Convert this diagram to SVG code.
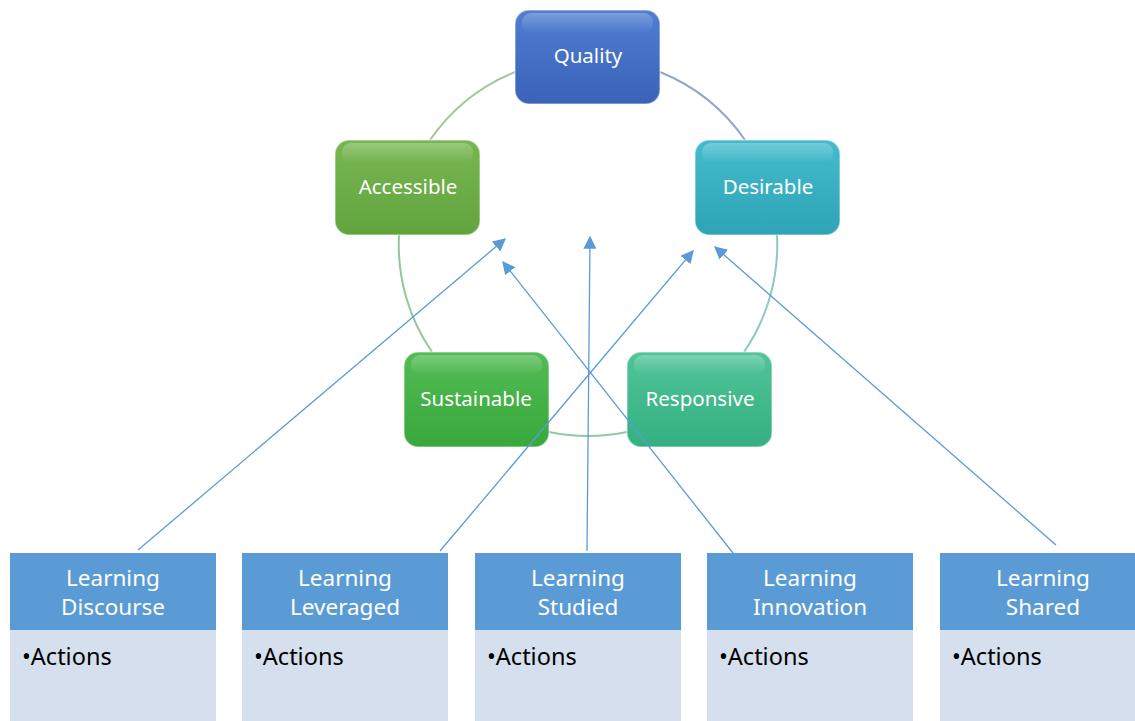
<svg xmlns="http://www.w3.org/2000/svg" width="1135" height="721" viewBox="0 0 1135 721">
<defs>
<linearGradient id="gBlue" x1="0" y1="0" x2="0" y2="1"><stop offset="0" stop-color="#4f7ed2"/><stop offset="1" stop-color="#3a62b8"/></linearGradient>
<linearGradient id="gGreen1" x1="0" y1="0" x2="0" y2="1"><stop offset="0" stop-color="#78b650"/><stop offset="1" stop-color="#62a43e"/></linearGradient>
<linearGradient id="gTeal" x1="0" y1="0" x2="0" y2="1"><stop offset="0" stop-color="#44bccc"/><stop offset="1" stop-color="#2ea4b6"/></linearGradient>
<linearGradient id="gGreen2" x1="0" y1="0" x2="0" y2="1"><stop offset="0" stop-color="#52bc54"/><stop offset="1" stop-color="#38a83c"/></linearGradient>
<linearGradient id="gSea" x1="0" y1="0" x2="0" y2="1"><stop offset="0" stop-color="#50c498"/><stop offset="1" stop-color="#34b080"/></linearGradient>
<linearGradient id="gloss" x1="0" y1="0" x2="0" y2="1"><stop offset="0" stop-color="#ffffff" stop-opacity="0.25"/><stop offset="1" stop-color="#ffffff" stop-opacity="0"/></linearGradient>
<marker id="ah" viewBox="0 0 10 10" refX="9" refY="5" markerWidth="13" markerHeight="13" markerUnits="userSpaceOnUse" orient="auto"><path d="M0,0 L10,5 L0,10 z" fill="#5b9bd5"/></marker>
<style>
.node rect.b{stroke:#ffffff;stroke-opacity:0.45;stroke-width:1.5}
.node text{font-family:"Noto Sans","Liberation Sans",sans-serif;font-size:20.5px;fill:#ffffff;text-anchor:middle}
.hd{fill:#5b9bd5}
.bd{fill:#d5dfee}
.ht{font-family:"Noto Sans","Liberation Sans",sans-serif;font-size:22.5px;fill:#ffffff;text-anchor:middle}
.at{font-family:"Noto Sans","Liberation Sans",sans-serif;font-size:23.5px;fill:#000000}
.con line{stroke:#5b9bd5;stroke-width:1.3;marker-end:url(#ah)}
.ring path{fill:none;stroke-width:2}
</style>
</defs>
<rect width="1135" height="721" fill="#ffffff"/>
<g id="ring" class="ring">
<path d="M 430 140 A 189 189 0 0 1 515 72" stroke="#a7c69c"/>
<path d="M 660 72 A 189 189 0 0 1 745 140" stroke="#93a6cc"/>
<path d="M 399 235 A 189 189 0 0 0 432 352" stroke="#90c898"/>
<path d="M 777 235 A 189 189 0 0 1 744 352" stroke="#8ccabf"/>
<path d="M 549 432 A 189 189 0 0 0 627 432" stroke="#90c8a8"/>
</g>
<g id="quality" class="node">
<rect class="b" x="515" y="10" width="145" height="94" rx="14" fill="url(#gBlue)"/>
<rect x="522" y="13" width="131" height="20" rx="9" fill="url(#gloss)"/>
<text x="588" y="63">Quality</text>
</g>
<g id="accessible" class="node">
<rect class="b" x="335" y="140" width="145" height="95" rx="14" fill="url(#gGreen1)"/>
<rect x="342" y="143" width="131" height="20" rx="9" fill="url(#gloss)"/>
<text x="408" y="194">Accessible</text>
</g>
<g id="desirable" class="node">
<rect class="b" x="695" y="140" width="145" height="95" rx="14" fill="url(#gTeal)"/>
<rect x="702" y="143" width="131" height="20" rx="9" fill="url(#gloss)"/>
<text x="768" y="194">Desirable</text>
</g>
<g id="sustainable" class="node">
<rect class="b" x="404" y="352" width="145" height="95" rx="14" fill="url(#gGreen2)"/>
<rect x="411" y="355" width="131" height="20" rx="9" fill="url(#gloss)"/>
<text x="476" y="406">Sustainable</text>
</g>
<g id="responsive" class="node">
<rect class="b" x="627" y="352" width="145" height="95" rx="14" fill="url(#gSea)"/>
<rect x="634" y="355" width="131" height="20" rx="9" fill="url(#gloss)"/>
<text x="700" y="406">Responsive</text>
</g>
<g id="connectors" class="con">
<line x1="138" y1="550" x2="505" y2="239"/>
<line x1="440" y1="551" x2="693" y2="251"/>
<line x1="587" y1="551" x2="590" y2="237"/>
<line x1="733" y1="553" x2="503" y2="262"/>
<line x1="1056" y1="545" x2="715" y2="247"/>
</g>
<g id="discourse">
<rect class="hd" x="10" y="553" width="206" height="77"/>
<rect class="bd" x="10" y="630" width="206" height="91"/>
<text class="ht" x="113" y="586">Learning</text>
<text class="ht" x="113" y="615">Discourse</text>
<text class="at" x="22" y="665">•Actions</text>
</g>
<g id="leveraged">
<rect class="hd" x="242" y="553" width="206" height="77"/>
<rect class="bd" x="242" y="630" width="206" height="91"/>
<text class="ht" x="345" y="586">Learning</text>
<text class="ht" x="345" y="615">Leveraged</text>
<text class="at" x="254" y="665">•Actions</text>
</g>
<g id="studied">
<rect class="hd" x="475" y="553" width="206" height="77"/>
<rect class="bd" x="475" y="630" width="206" height="91"/>
<text class="ht" x="578" y="586">Learning</text>
<text class="ht" x="578" y="615">Studied</text>
<text class="at" x="487" y="665">•Actions</text>
</g>
<g id="innovation">
<rect class="hd" x="707" y="553" width="206" height="77"/>
<rect class="bd" x="707" y="630" width="206" height="91"/>
<text class="ht" x="810" y="586">Learning</text>
<text class="ht" x="810" y="615">Innovation</text>
<text class="at" x="719" y="665">•Actions</text>
</g>
<g id="shared">
<rect class="hd" x="940" y="553" width="195" height="77"/>
<rect class="bd" x="940" y="630" width="195" height="91"/>
<text class="ht" x="1043" y="586">Learning</text>
<text class="ht" x="1043" y="615">Shared</text>
<text class="at" x="952" y="665">•Actions</text>
</g>
</svg>
